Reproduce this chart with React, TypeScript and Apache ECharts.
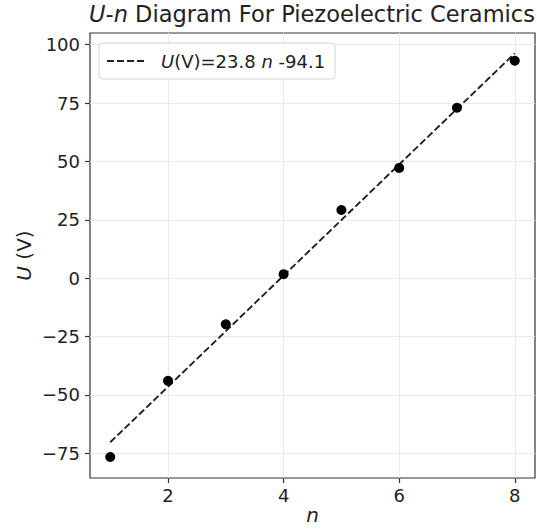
import React, { useEffect, useRef } from "react";
import * as echarts from "echarts";

const nValues = [1, 2, 3, 4, 5, 6, 7, 8];
const uValues = [-76.6, -44.0, -19.8, 1.7, 29.2, 47.2, 73.0, 93.1];
const fitSlope = 23.8;
const fitIntercept = -94.1;
const xTicks = [2, 4, 6, 8];
const yTicks = [-75, -50, -25, 0, 25, 50, 75, 100];

const FONT = "DejaVu Sans";

export default function App() {
  const ref = useRef<HTMLDivElement>(null);
  useEffect(() => {
    if (!ref.current) return;
    const chart = echarts.init(ref.current, undefined, { renderer: "svg" });
    const points = nValues.map((n, i) => [n, uValues[i]]);
    const nMin = nValues[0];
    const nMax = nValues[nValues.length - 1];
    const fitLine = [
      [nMin, fitSlope * nMin + fitIntercept],
      [nMax, fitSlope * nMax + fitIntercept],
    ];
    const fmt = (v: number) => (v < 0 ? "\u2212" + Math.abs(v) : String(v));
    chart.setOption({
      animation: false,
      backgroundColor: "#fff",
      title: {
        text: "{i|U}{r|-}{i|n}{r| Diagram For Piezoelectric Ceramics}",
        left: 312,
        textAlign: "center",
        top: 2,
        padding: 0,
        textStyle: {
          fontFamily: FONT,
          fontSize: 22.5,
          fontWeight: "normal",
          color: "#222",
          rich: {
            i: { fontFamily: FONT, fontSize: 22.5, fontStyle: "italic", color: "#222" },
            r: { fontFamily: FONT, fontSize: 22.5, color: "#222" },
          },
        },
      },
      legend: {
        left: 99,
        top: 43,
        orient: "vertical",
        padding: [9, 10, 9, 7],
        itemWidth: 37,
        itemHeight: 18,
        backgroundColor: "rgba(255,255,255,0.85)",
        borderColor: "#d4d4d4",
        borderWidth: 1,
        borderRadius: 4,
        data: [{ name: "fit" }],
        itemStyle: { opacity: 0, borderWidth: 0 },
        formatter: () => `{i|U}{r|(V)=23.8 }{i|n}{r| -94.1}`,
        textStyle: {
          fontFamily: FONT,
          fontSize: 18,
          color: "#222",
          padding: [0, 0, 0, 12],
          rich: {
            i: { fontFamily: FONT, fontSize: 18, fontStyle: "italic", color: "#222" },
            r: { fontFamily: FONT, fontSize: 18, color: "#222" },
          },
        },
      },
      grid: {
        left: 90,
        right: 2,
        top: 33,
        bottom: 51,
        show: true,
        borderColor: "#333",
        borderWidth: 1.2,
        backgroundColor: "transparent",
        containLabel: false,
        outerBoundsMode: "none",
      },
      xAxis: {
        type: "value",
        min: 0.65,
        max: 8.35,
        name: "n",
        nameLocation: "middle",
        nameGap: 27,
        nameMoveOverlap: false,
        nameTextStyle: { fontFamily: FONT, fontSize: 20, lineHeight: 20, fontStyle: "italic", color: "#222" },
        axisLine: { show: false, onZero: false },
        axisTick: { show: true, customValues: xTicks, length: 5, lineStyle: { color: "#333", width: 1.2 } },
        axisLabel: { customValues: xTicks, fontFamily: FONT, fontSize: 18, color: "#222", margin: 8, formatter: fmt },
        splitLine: { show: true, lineStyle: { color: "#ebebeb", width: 1 } },
      },
      yAxis: {
        type: "value",
        min: -85.6,
        max: 105,
        name: "{i|U}{r| (V)}",
        nameLocation: "middle",
        nameGap: 56,
        nameMoveOverlap: false,
        nameRotate: 90,
        nameTextStyle: {
          fontFamily: FONT,
          fontSize: 20,
          color: "#222",
          rich: {
            i: { fontFamily: FONT, fontSize: 20, fontStyle: "italic", color: "#222" },
            r: { fontFamily: FONT, fontSize: 20, color: "#222" },
          },
        },
        axisLine: { show: false, onZero: false },
        axisTick: { show: true, customValues: yTicks, length: 5, lineStyle: { color: "#333", width: 1.2 } },
        axisLabel: { customValues: yTicks, fontFamily: FONT, fontSize: 18, color: "#222", margin: 10, formatter: fmt },
        splitLine: { show: true, lineStyle: { color: "#ebebeb", width: 1 } },
      },
      series: [
        {
          name: "fit",
          type: "line",
          data: fitLine,
          symbol: "none",
          lineStyle: { color: "#222", width: 1.9, type: [7, 3] },
          itemStyle: { color: "#222" },
          z: 3,
        },
        {
          name: "data",
          type: "scatter",
          data: points,
          symbol: "circle",
          symbolSize: 10,
          itemStyle: { color: "#000", opacity: 1 },
          z: 4,
        },
      ],
    });
    return () => chart.dispose();
  }, []);
  return <div ref={ref} style={{ width: 537, height: 529, position: "absolute", left: 0, top: 0 }} />;
}
